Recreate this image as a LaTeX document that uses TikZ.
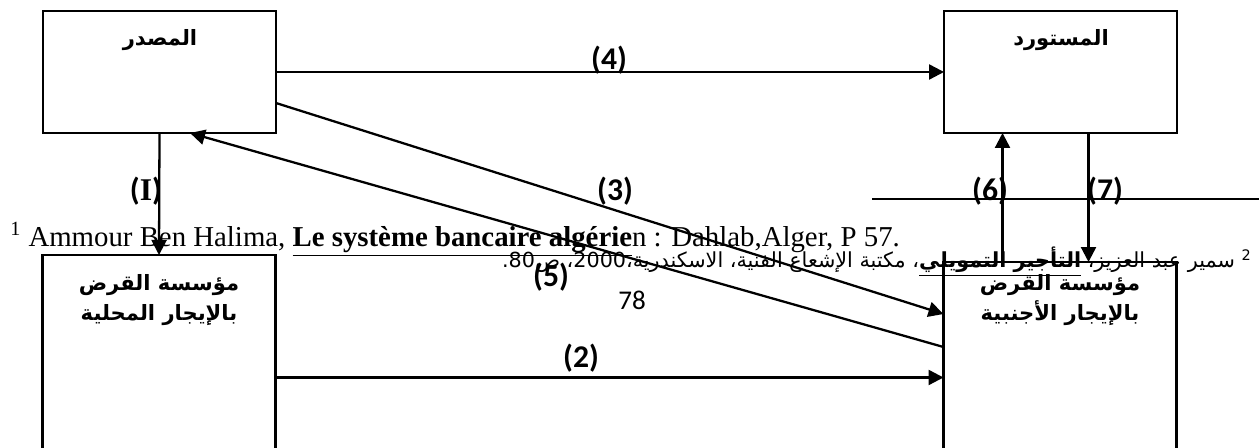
\documentclass[tikz,border=0pt]{standalone}
\usepackage{fontspec}
\usepackage{tikz}
\usetikzlibrary{arrows.meta,calc,positioning}
\setmainfont{Liberation Serif}
\newfontfamily\arabicfont[Script=Arabic]{DejaVu Sans}
\newfontfamily\tagfont{Carlito}
\TeXXeTstate=1
\tikzset{
  box/.style={draw,line width=1.3pt,inner sep=0pt,outer sep=0pt,minimum width=4.66cm},
  boxlab/.style={font=\arabicfont\bfseries\fontsize{12}{17.5}\selectfont,align=center,inner sep=0pt},
  tag/.style={font=\tagfont\bfseries\fontsize{18}{18}\selectfont,inner sep=0pt},
  arr/.style={line width=1.3pt,-{Triangle[length=0.3cm,width=0.3cm]}},
  fnote/.style={font=\fontsize{16.4}{18}\selectfont,inner sep=0pt},
  arnote/.style={font=\arabicfont\fontsize{11.8}{13}\selectfont,inner sep=0pt},
  pnum/.style={font=\tagfont\fontsize{15.4}{16}\selectfont,inner sep=0pt},
}
\begin{document}
\begin{tikzpicture}[x=0.02cm,y=-0.02cm]
  \useasboundingbox (0,0) rectangle (1259,448);
  % boxes
  \node[box,minimum height=2.44cm] (src) at (159.5,72) {};
  \node[box,minimum height=2.44cm] (imp) at (1060.5,72) {};
  \node[box,minimum height=4.9cm] (loc) at (159,377.5) {};
  \node[box,minimum height=4.9cm] (fgn) at (1060,384.5) {};
  \node[boxlab] (srcT) at (160,40) {\beginR المصدر\endR};
  \node[boxlab] (impT) at (1061,40) {\beginR المستورد\endR};
  \node[boxlab] (locT) at (159,300) {\beginR مؤسسة القرض\endR\\\beginR بالإيجار المحلية\endR};
  \node[boxlab] (fgnT) at (1060,300) {\beginR مؤسسة القرض\endR\\\beginR بالإيجار الأجنبية\endR};
  % footnotes
  \node[fnote,anchor=base west] (fn1) at (10,247)
    {\textsuperscript{1} Ammour Ben Halima, \underline{\textbf{Le système bancaire algérie}}n : Dahlab,Alger, P 57.};
  \node[arnote,anchor=base east] (fn2) at (1252,268)
    {\beginR\textsuperscript{2} سمير عبد العزيز، \underline{\beginR\textbf{التأجير التمويلي}\endR}، مكتبة الإشعاع الفنية، الاسكندرية،\beginL2000\endL، ص\beginL80\endL.\endR};
  \node[pnum] (pg) at (632,300) {78};
  % connectors
  \coordinate (s3) at ($(src.north east)+(0,92)$);
  \coordinate (f3) at ($(fgn.north west)+(0,52)$);
  \coordinate (f5) at ($(fgn.north west)+(0,85)$);
  \coordinate (s5) at ($(src.south west)+(147,0)$);
  \coordinate (f6) at ($(fgn.north west)+(59,0)$);
  \coordinate (f7) at ($(fgn.north west)+(145,0)$);
  \coordinate (rl) at (872,199);
  \coordinate (rr) at (1259,199);
  \draw[arr] (src.east) -- (imp.west);
  \draw[arr] (src.south) -- (loc.north);
  \draw[arr] (s3) -- (f3);
  \draw[arr] (f5) -- (s5);
  \draw[arr] (loc.east) -- (fgn.west |- loc.east);
  \draw[arr] (f6) -- (f6 |- imp.south);
  \draw[arr] (f7 |- imp.south) -- (f7);
  \draw[line width=1.3pt] (rl) -- (rr);
  % labels
  \node[tag] (t1) at (146,191) {(\textrm{I})};
  \node[tag] (t2) at (581,358) {(2)};
  \node[tag] (t3) at (615,191) {(3)};
  \node[tag] (t4) at (609,60) {(4)};
  \node[tag] (t5) at (551,277) {(5)};
  \node[tag] (t6) at (990,191) {(6)};
  \node[tag] (t7) at (1105,191) {(7)};
\end{tikzpicture}
\end{document}
